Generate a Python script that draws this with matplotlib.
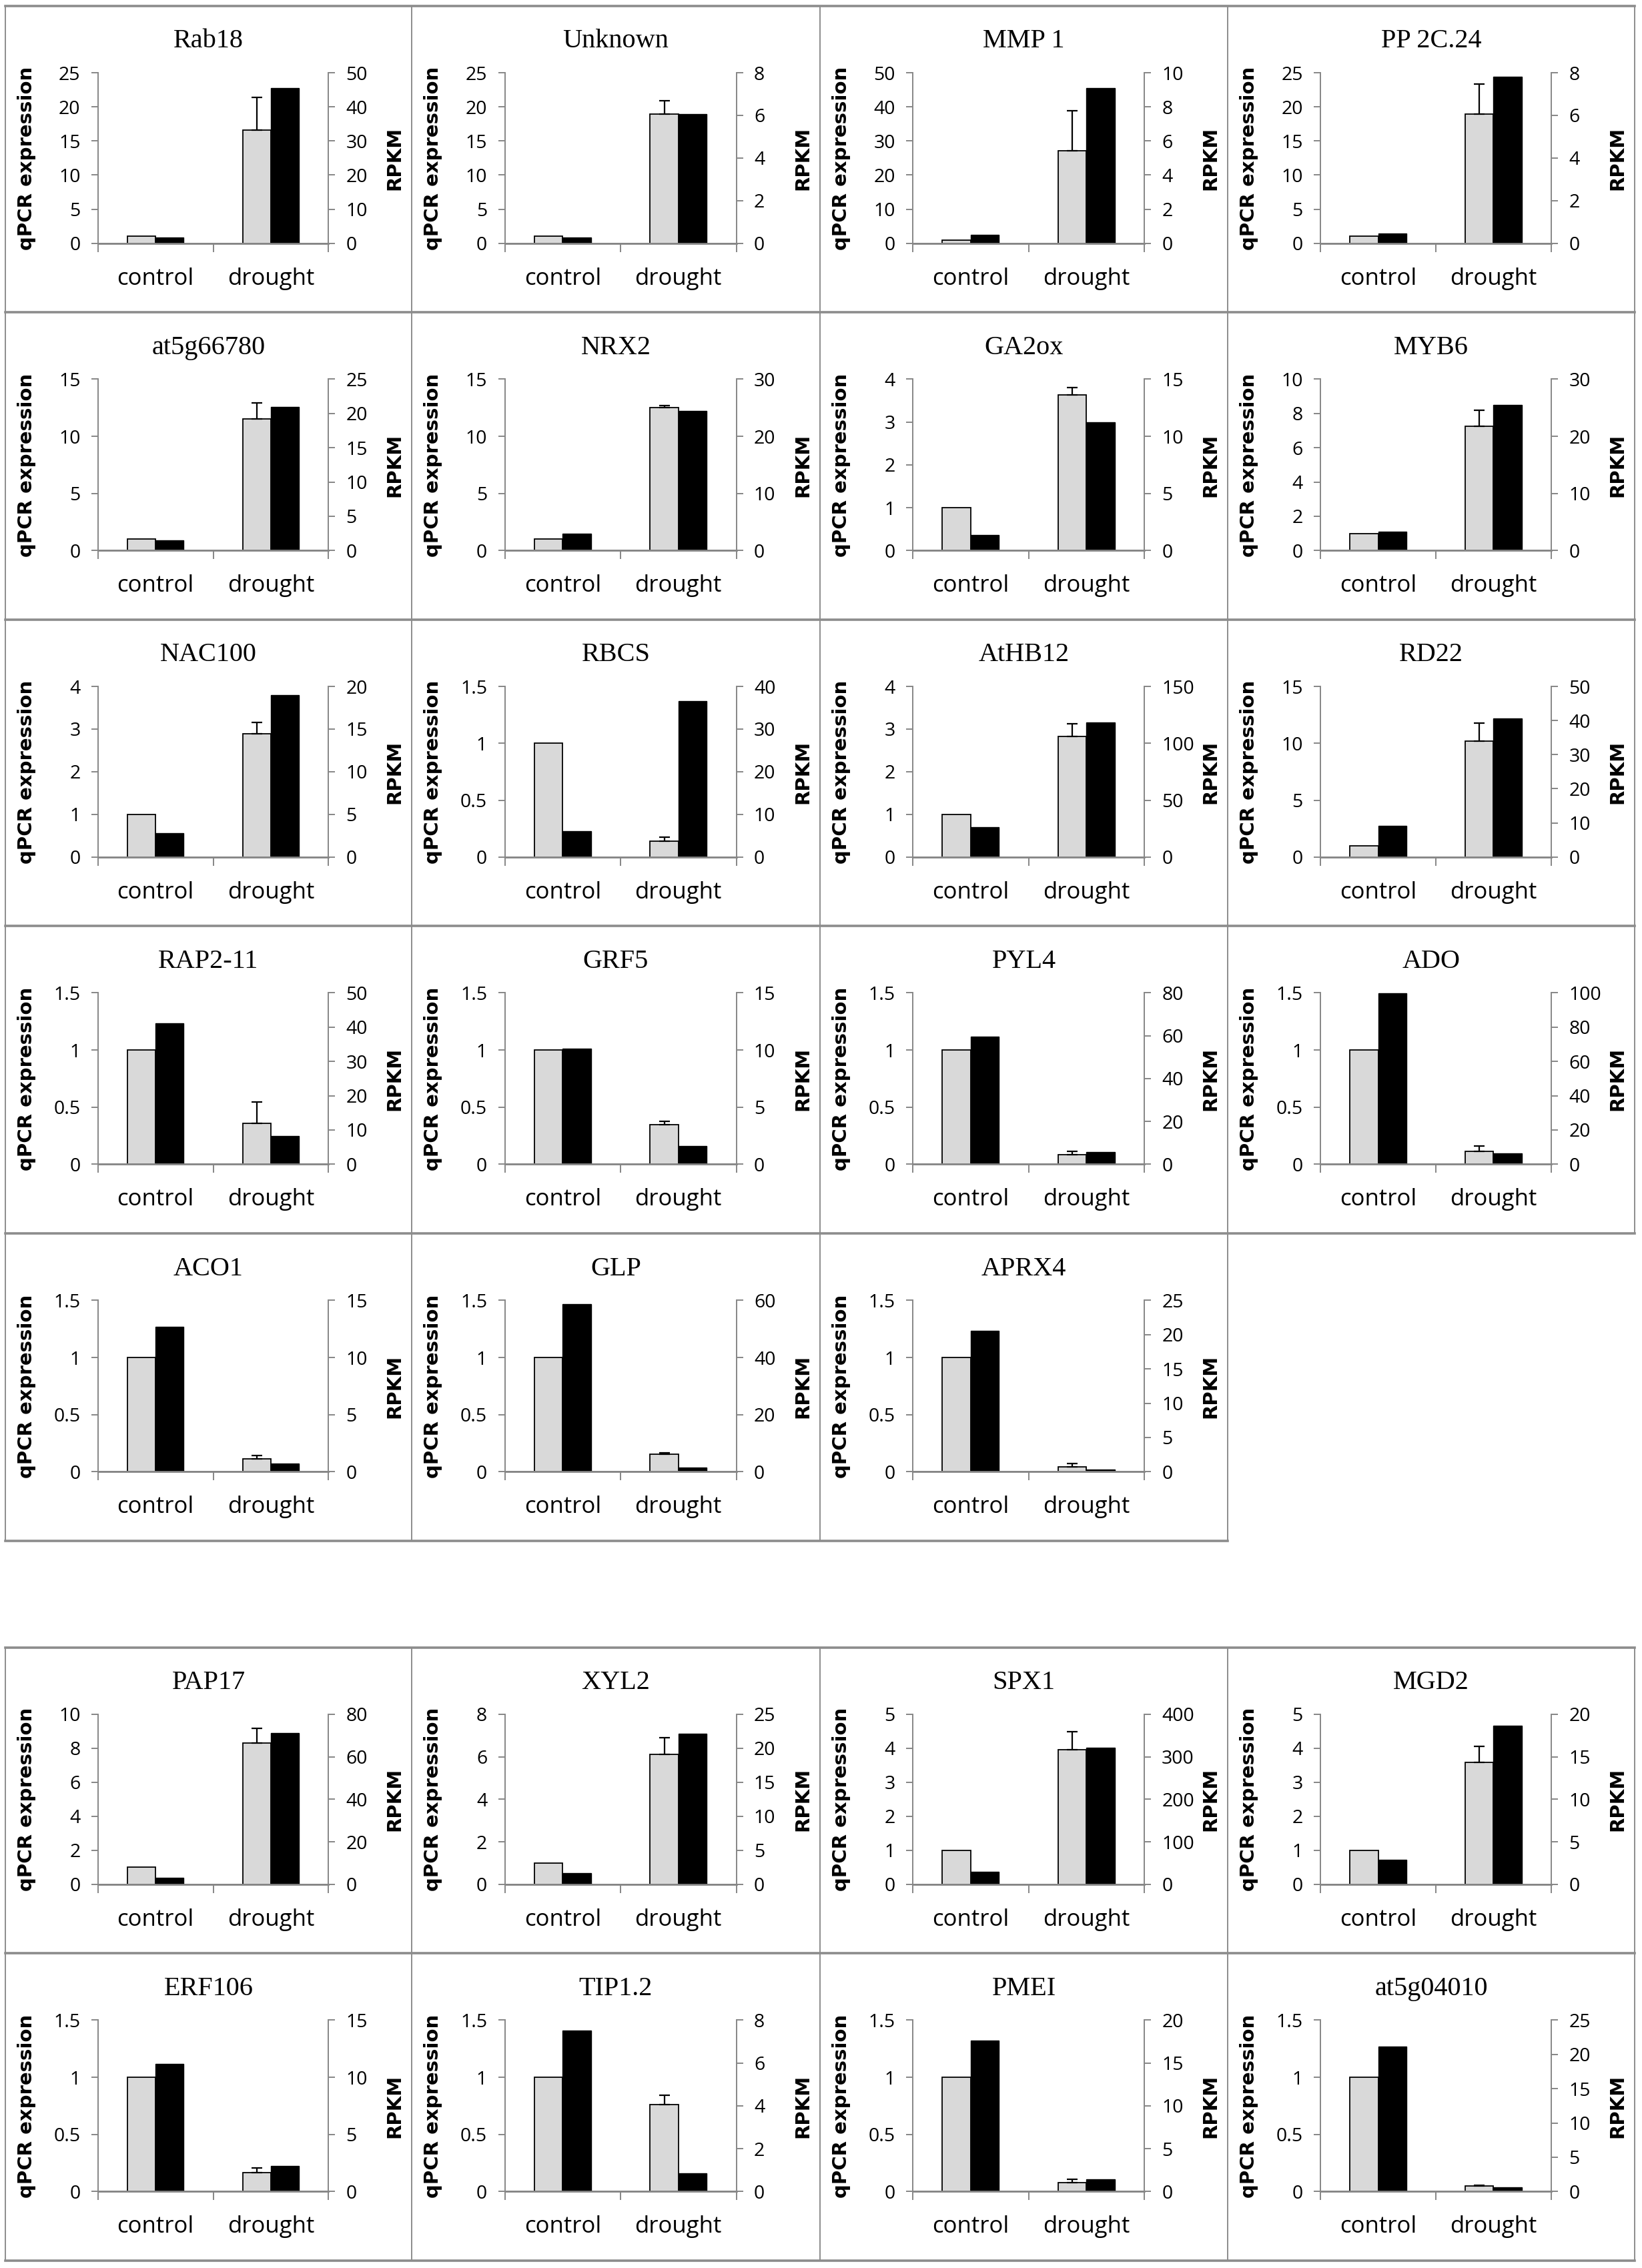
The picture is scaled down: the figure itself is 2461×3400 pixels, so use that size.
import matplotlib.pyplot as plt
from matplotlib.ticker import MultipleLocator, FuncFormatter

# gene panels, in reading order (19 in the upper block, 8 in the lower block)
genes = ['Rab18', 'Unknown', 'MMP 1', 'PP 2C.24',
         'at5g66780', 'NRX2', 'GA2ox', 'MYB6',
         'NAC100', 'RBCS', 'AtHB12', 'RD22',
         'RAP2-11', 'GRF5', 'PYL4', 'ADO',
         'ACO1', 'GLP', 'APRX4',
         'PAP17', 'XYL2', 'SPX1', 'MGD2',
         'ERF106', 'TIP1.2', 'PMEI', 'at5g04010']
categories = ['control', 'drought']

qpcr_control = [1.0] * 27
qpcr_drought = [16.6, 18.95, 27.2, 18.9, 11.55, 12.5, 3.63, 7.24, 2.89, 0.14,
                2.82, 10.2, 0.356, 0.344, 0.083, 0.114, 0.112, 0.151, 0.045,
                8.3, 6.1, 3.95, 3.59, 0.167, 0.76, 0.076, 0.049]
qpcr_err = [4.8, 1.95, 11.6, 4.4, 1.4, 0.2, 0.17, 0.96, 0.27, 0.035,
            0.31, 1.6, 0.19, 0.03, 0.03, 0.047, 0.03, 0.012, 0.024,
            0.87, 0.8, 0.53, 0.47, 0.038, 0.08, 0.028, 0.006]
rpkm_control = [1.76, 0.26, 0.48, 0.45, 1.47, 3.0, 1.38, 3.28, 2.83, 6.08,
                26.1, 9.05, 41.2, 10.1, 59.5, 99.7, 12.68, 58.6, 20.6,
                3.2, 1.69, 30.1, 2.93, 11.16, 7.51, 17.65, 21.2]
rpkm_drought = [45.6, 6.05, 9.11, 7.81, 21.0, 24.5, 11.26, 25.5, 18.95, 36.5,
                118.3, 40.6, 8.28, 1.57, 5.7, 6.3, 0.69, 1.57, 0.33,
                71.3, 22.15, 322, 18.65, 2.24, 0.86, 1.39, 0.58]

# axis ranges / tick steps
q_max = [25, 25, 50, 25, 15, 15, 4, 10, 4, 1.5, 4, 15, 1.5, 1.5, 1.5, 1.5,
         1.5, 1.5, 1.5, 10, 8, 5, 5, 1.5, 1.5, 1.5, 1.5]
q_step = [5, 5, 10, 5, 5, 5, 1, 2, 1, 0.5, 1, 5, 0.5, 0.5, 0.5, 0.5,
          0.5, 0.5, 0.5, 2, 2, 1, 1, 0.5, 0.5, 0.5, 0.5]
r_max = [50, 8, 10, 8, 25, 30, 15, 30, 20, 40, 150, 50, 50, 15, 80, 100,
         15, 60, 25, 80, 25, 400, 20, 15, 8, 20, 25]
r_step = [10, 2, 2, 2, 5, 10, 5, 10, 5, 10, 50, 10, 10, 5, 20, 20,
          5, 20, 5, 20, 5, 100, 5, 5, 2, 5, 5]

W, H = 2461, 3400
col_x = [8, 617, 1229, 1840, 2450]
top_rows = [9, 468, 929, 1388, 1849, 2310]
bot_rows = [2470, 2928, 3389]

GRAY = '#868686'
FRAME = '#8c8c8c'
BARGRAY = '#d9d9d9'

plt.rcParams['font.family'] = ['Open Sans', 'DejaVu Sans']

fig = plt.figure(figsize=(W / 100, H / 100), dpi=100)

# table frame drawn in pixel coordinates
bg = fig.add_axes([0, 0, 1, 1], zorder=-1)
bg.set_xlim(0, W)
bg.set_ylim(H, 0)
bg.axis('off')
for y in top_rows[:-1]:
    bg.plot([col_x[0], col_x[-1]], [y, y], color=FRAME, lw=2.6)
bg.plot([col_x[0], col_x[3]], [top_rows[-1]] * 2, color=FRAME, lw=2.6)
for x in col_x[:4]:
    bg.plot([x, x], [top_rows[0], top_rows[-1]], color=FRAME, lw=1.4)
bg.plot([col_x[4]] * 2, [top_rows[0], top_rows[4]], color=FRAME, lw=1.4)
for y in bot_rows:
    bg.plot([col_x[0], col_x[-1]], [y, y], color=FRAME, lw=2.6)
for x in col_x:
    bg.plot([x, x], [bot_rows[0], bot_rows[-1]], color=FRAME, lw=1.4)

fmt = FuncFormatter(lambda v, p: f'{v:g}')
bw = 0.245
xs = [0, 1]

for i, gene in enumerate(genes):
    if i < 19:
        r, c = divmod(i, 4)
        y0, y1 = top_rows[r], top_rows[r + 1]
    else:
        r, c = divmod(i - 19, 4)
        y0, y1 = bot_rows[r], bot_rows[r + 1]
    x0, x1 = col_x[c], col_x[c + 1]
    w, h = x1 - x0, y1 - y0
    al, ar = x0 + 0.228 * w, x0 + 0.795 * w
    at, ab = y0 + 0.218 * h, y0 + 0.775 * h

    ax = fig.add_axes([al / W, 1 - ab / H, (ar - al) / W, (ab - at) / H])
    ax2 = ax.twinx()

    ax.bar([x - bw / 2 for x in xs], [qpcr_control[i], qpcr_drought[i]], bw,
           color=BARGRAY, edgecolor='black', lw=1.3)
    ax.errorbar(1 - bw / 2, qpcr_drought[i], yerr=[[0], [qpcr_err[i]]],
                fmt='none', ecolor='black', elinewidth=1.6, capsize=6,
                capthick=1.6)
    ax2.bar([x + bw / 2 for x in xs], [rpkm_control[i], rpkm_drought[i]], bw,
            color='black', edgecolor='black', lw=1.0)

    ax.set_xlim(-0.5, 1.5)
    ax.set_ylim(0, q_max[i])
    ax2.set_ylim(0, r_max[i])
    ax.yaxis.set_major_locator(MultipleLocator(q_step[i]))
    ax2.yaxis.set_major_locator(MultipleLocator(r_step[i]))
    ax.yaxis.set_major_formatter(fmt)
    ax2.yaxis.set_major_formatter(fmt)

    for s in ['top', 'right']:
        ax.spines[s].set_visible(False)
    for s in ['top', 'left']:
        ax2.spines[s].set_visible(False)
    for a in (ax, ax2):
        for s in a.spines.values():
            s.set_color(GRAY)
            s.set_linewidth(1.4)
    ax2.spines['bottom'].set_linewidth(2.0)

    ax.set_xticks([-0.5, 0.5, 1.5])
    ax.set_xticklabels([])
    ax.set_xticks(xs, minor=True)
    ax.set_xticklabels(categories, minor=True)
    ax.tick_params(axis='x', which='major', direction='out', length=9.5,
                   width=1.4, color=GRAY)
    ax.tick_params(axis='x', which='minor', length=0, pad=26, labelsize=25)
    ax.tick_params(axis='y', direction='out', length=7, width=1.4,
                   color=GRAY, labelsize=20.5, pad=12)
    ax2.tick_params(axis='y', direction='out', length=7, width=1.4,
                    color=GRAY, labelsize=20.5, pad=12)

    fig.text((x0 + x1) / 2 / W, 1 - (y0 + 0.115 * h) / H, gene,
             ha='center', va='center', fontsize=29, family='Liberation Serif')
    ymid = 1 - (at + ab) / 2 / H
    fig.text((x0 + 0.052 * w) / W, ymid, 'qPCR expression', rotation=90,
             ha='center', va='center', fontsize=21, fontweight='bold',
             family='DejaVu Sans')
    fig.text((x0 + 0.958 * w) / W, ymid, 'RPKM', rotation=90,
             ha='center', va='center', fontsize=21, fontweight='bold',
             family='DejaVu Sans')

fig.savefig('out.png', dpi=100, facecolor='white')
